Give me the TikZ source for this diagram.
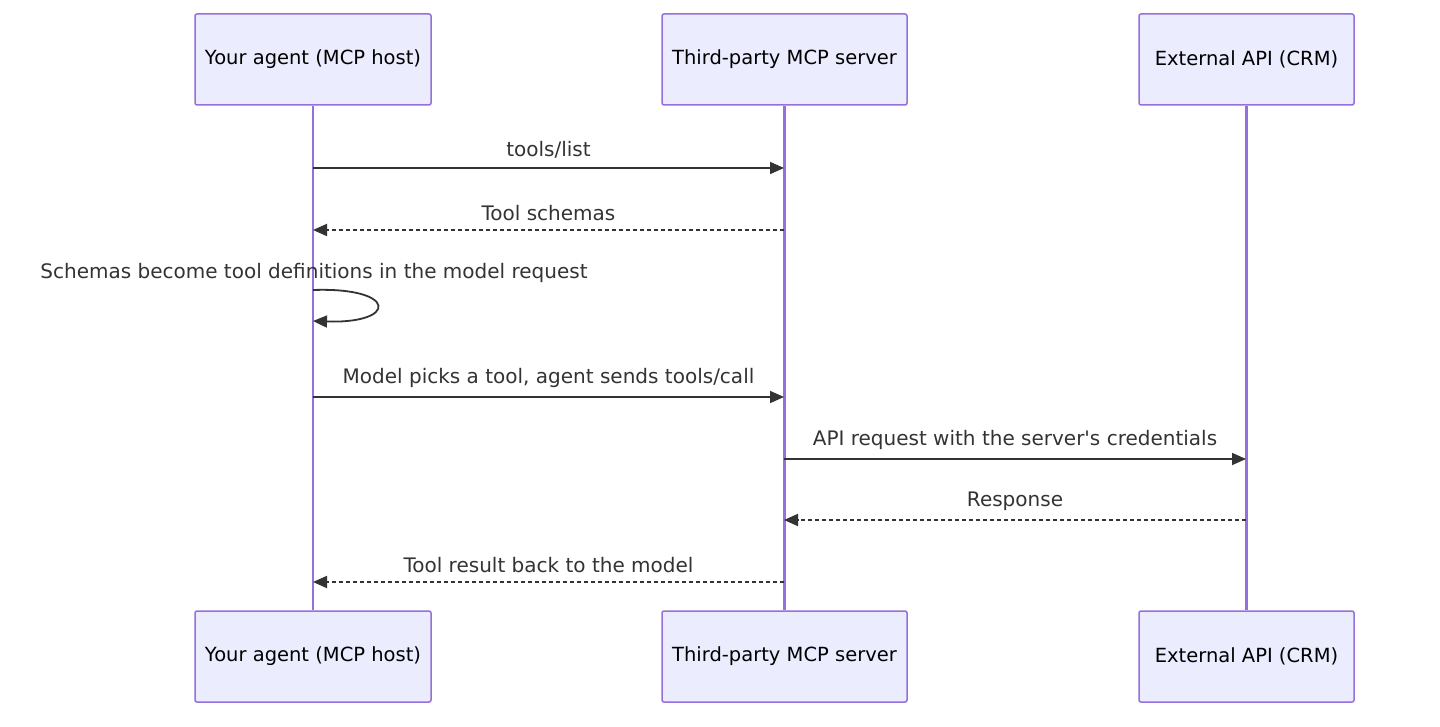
\documentclass[tikz,border=0pt]{standalone}
\usepackage{fontspec}
\setmainfont{DejaVu Sans}
\usetikzlibrary{arrows.meta}
\definecolor{boxfill}{HTML}{ECECFF}
\definecolor{boxline}{HTML}{9370DB}
\definecolor{ink}{HTML}{333333}
\begin{document}
\begin{tikzpicture}[x=1pt,y=-1pt,
  actor/.style={draw=boxline,fill=boxfill,line width=1.5pt,rounded corners=2pt,minimum height=91pt,font=\fontsize{19.5}{23}\selectfont,text=black,inner sep=0},
  life/.style={draw=boxline,line width=2.5pt},
  msg/.style={draw=ink,line width=1.8pt,-{Triangle[length=14pt,width=12pt]}},
  reply/.style={msg,dash pattern=on 4pt off 3pt},
  lbl/.style={font=\fontsize{20}{24}\selectfont,text=ink,anchor=base}]
\useasboundingbox (0,0) rectangle (1440,727);
\node[actor,minimum width=236pt] (a1) at (313,59.5) {Your agent (MCP host)};
\node[actor,minimum width=245pt] (a2) at (784.5,59.5) {Third-party MCP server};
\node[actor,minimum width=215pt] (a3) at (1246.5,59.5) {External API (CRM)};
\node[actor,minimum width=236pt] (b1) at (313,656.5) {Your agent (MCP host)};
\node[actor,minimum width=245pt] (b2) at (784.5,656.5) {Third-party MCP server};
\node[actor,minimum width=215pt] (b3) at (1246.5,656.5) {External API (CRM)};
\draw[life] (a1.south) -- (b1.north);
\draw[life] (a2.south) -- (b2.north);
\draw[life] (a3.south) -- (b3.north);
\coordinate (p1) at (313,168); \coordinate (q1) at (784,168);
\draw[msg] (p1) -- (q1) node[lbl,midway,above=5pt] {tools/list};
\coordinate (p2) at (313,230); \coordinate (q2) at (784,230);
\draw[reply] (q2) -- (p2) node[lbl,midway,above=5pt] {Tool schemas};
\coordinate (s1) at (313,290); \coordinate (s2) at (313,321);
\draw[msg] (s1) .. controls (398,287) and (398,324) .. (s2);
\node[lbl] (sl) at (314,279) {Schemas become tool definitions in the model request};
\coordinate (p3) at (313,397); \coordinate (q3) at (784,397);
\draw[msg] (p3) -- (q3) node[lbl,midway,above=5pt] {Model picks a tool, agent sends tools/call};
\coordinate (p4) at (784,459); \coordinate (q4) at (1246,459);
\draw[msg] (p4) -- (q4) node[lbl,midway,above=5pt] {API request with the server\textquotesingle s credentials};
\coordinate (p5) at (784,520); \coordinate (q5) at (1246,520);
\draw[reply] (q5) -- (p5) node[lbl,midway,above=5pt] {Response};
\coordinate (p6) at (313,582); \coordinate (q6) at (784,582);
\draw[reply] (q6) -- (p6) node[lbl,midway,above=5pt] {Tool result back to the model};
\end{tikzpicture}
\end{document}
